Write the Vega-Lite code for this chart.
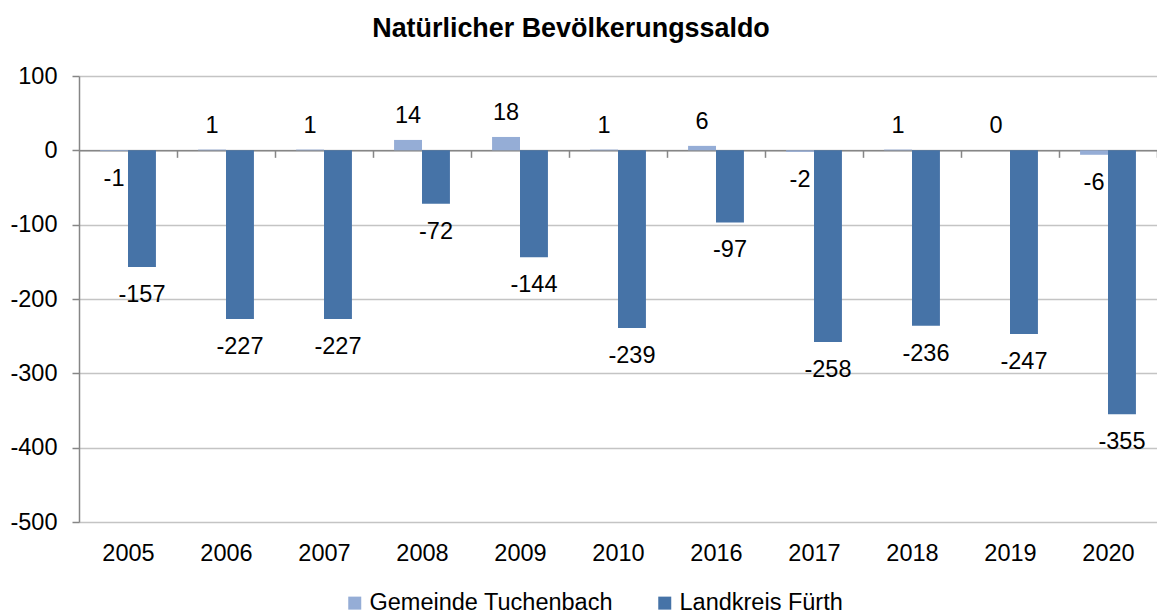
{
  "$schema": "https://vega.github.io/schema/vega-lite/v6.json",
  "width": 1078,
  "height": 446,
  "autosize": {"type": "none"},
  "padding": {"left": 79, "top": 76, "right": 0, "bottom": 91},
  "background": "white",
  "title": {
    "text": "Natürlicher Bevölkerungssaldo",
    "font": "Liberation Sans",
    "fontSize": 26.9,
    "fontWeight": "bold",
    "color": "black",
    "anchor": "middle",
    "frame": "group",
    "dx": -47,
    "offset": 21
  },
  "config": {
    "view": {"stroke": null},
    "font": "Liberation Sans",
    "locale": {"number": {"decimal": ".", "thousands": ",", "grouping": [3], "currency": ["", ""], "minus": "-"}}
  },
  "data": {
    "values": [
      {"year": "2005", "series": "Gemeinde Tuchenbach", "value": -1},
      {"year": "2005", "series": "Landkreis Fürth", "value": -157},
      {"year": "2006", "series": "Gemeinde Tuchenbach", "value": 1},
      {"year": "2006", "series": "Landkreis Fürth", "value": -227},
      {"year": "2007", "series": "Gemeinde Tuchenbach", "value": 1},
      {"year": "2007", "series": "Landkreis Fürth", "value": -227},
      {"year": "2008", "series": "Gemeinde Tuchenbach", "value": 14},
      {"year": "2008", "series": "Landkreis Fürth", "value": -72},
      {"year": "2009", "series": "Gemeinde Tuchenbach", "value": 18},
      {"year": "2009", "series": "Landkreis Fürth", "value": -144},
      {"year": "2010", "series": "Gemeinde Tuchenbach", "value": 1},
      {"year": "2010", "series": "Landkreis Fürth", "value": -239},
      {"year": "2016", "series": "Gemeinde Tuchenbach", "value": 6},
      {"year": "2016", "series": "Landkreis Fürth", "value": -97},
      {"year": "2017", "series": "Gemeinde Tuchenbach", "value": -2},
      {"year": "2017", "series": "Landkreis Fürth", "value": -258},
      {"year": "2018", "series": "Gemeinde Tuchenbach", "value": 1},
      {"year": "2018", "series": "Landkreis Fürth", "value": -236},
      {"year": "2019", "series": "Gemeinde Tuchenbach", "value": 0},
      {"year": "2019", "series": "Landkreis Fürth", "value": -247},
      {"year": "2020", "series": "Gemeinde Tuchenbach", "value": -6},
      {"year": "2020", "series": "Landkreis Fürth", "value": -355}
    ]
  },
  "encoding": {
    "x": {
      "field": "year",
      "type": "nominal",
      "sort": null,
      "scale": {"paddingInner": 0.43, "paddingOuter": 0.215},
      "axis": {
        "orient": "bottom",
        "offset": -371.67,
        "title": null,
        "grid": false,
        "domainColor": "#868686",
        "domainWidth": 1.5,
        "tickColor": "#868686",
        "tickWidth": 1.5,
        "tickSize": 7,
        "tickOffset": 49,
        "labelOffset": -49,
        "labelPadding": 384,
        "labelAngle": 0,
        "labelFont": "Liberation Sans",
        "labelFontSize": 23.5,
        "labelColor": "black"
      }
    },
    "xOffset": {
      "field": "series",
      "type": "nominal",
      "sort": ["Gemeinde Tuchenbach", "Landkreis Fürth"],
      "scale": {"paddingInner": 0, "paddingOuter": 0}
    },
    "y": {
      "field": "value",
      "type": "quantitative",
      "scale": {"domain": [-500, 100], "nice": false},
      "axis": {
        "values": [-500, -400, -300, -200, -100, 0, 100],
        "title": null,
        "domainColor": "#868686",
        "domainWidth": 1.5,
        "tickColor": "#868686",
        "tickWidth": 1.5,
        "tickSize": 7,
        "labelPadding": 15,
        "labelFont": "Liberation Sans",
        "labelFontSize": 23.5,
        "labelColor": "black",
        "gridColor": "#C4C4C4",
        "gridWidth": 1.5
      }
    }
  },
  "layer": [
    {
      "mark": {"type": "bar"},
      "encoding": {
        "color": {
          "field": "series",
          "type": "nominal",
          "scale": {"domain": ["Gemeinde Tuchenbach", "Landkreis Fürth"], "range": ["#95ADD6", "#4673A7"]},
          "legend": {
            "orient": "none",
            "legendX": 264,
            "legendY": 515,
            "direction": "horizontal",
            "title": null,
            "symbolType": "square",
            "symbolSize": 169,
            "symbolStrokeWidth": 0,
            "labelFont": "Liberation Sans",
            "labelFontSize": 23.5,
            "labelColor": "black",
            "labelOffset": 3,
            "labelLimit": 0,
            "columnPadding": 40
          }
        }
      }
    },
    {
      "transform": [{"filter": "datum.value < 0"}],
      "mark": {"type": "text", "baseline": "middle", "align": "center", "dy": 28, "font": "Liberation Sans", "fontSize": 23.5, "color": "black"},
      "encoding": {"text": {"field": "value", "type": "quantitative", "format": "d"}}
    },
    {
      "transform": [{"filter": "datum.value >= 0"}],
      "mark": {"type": "text", "baseline": "middle", "align": "center", "dy": -24, "font": "Liberation Sans", "fontSize": 23.5, "color": "black"},
      "encoding": {"text": {"field": "value", "type": "quantitative", "format": "d"}}
    }
  ]
}
